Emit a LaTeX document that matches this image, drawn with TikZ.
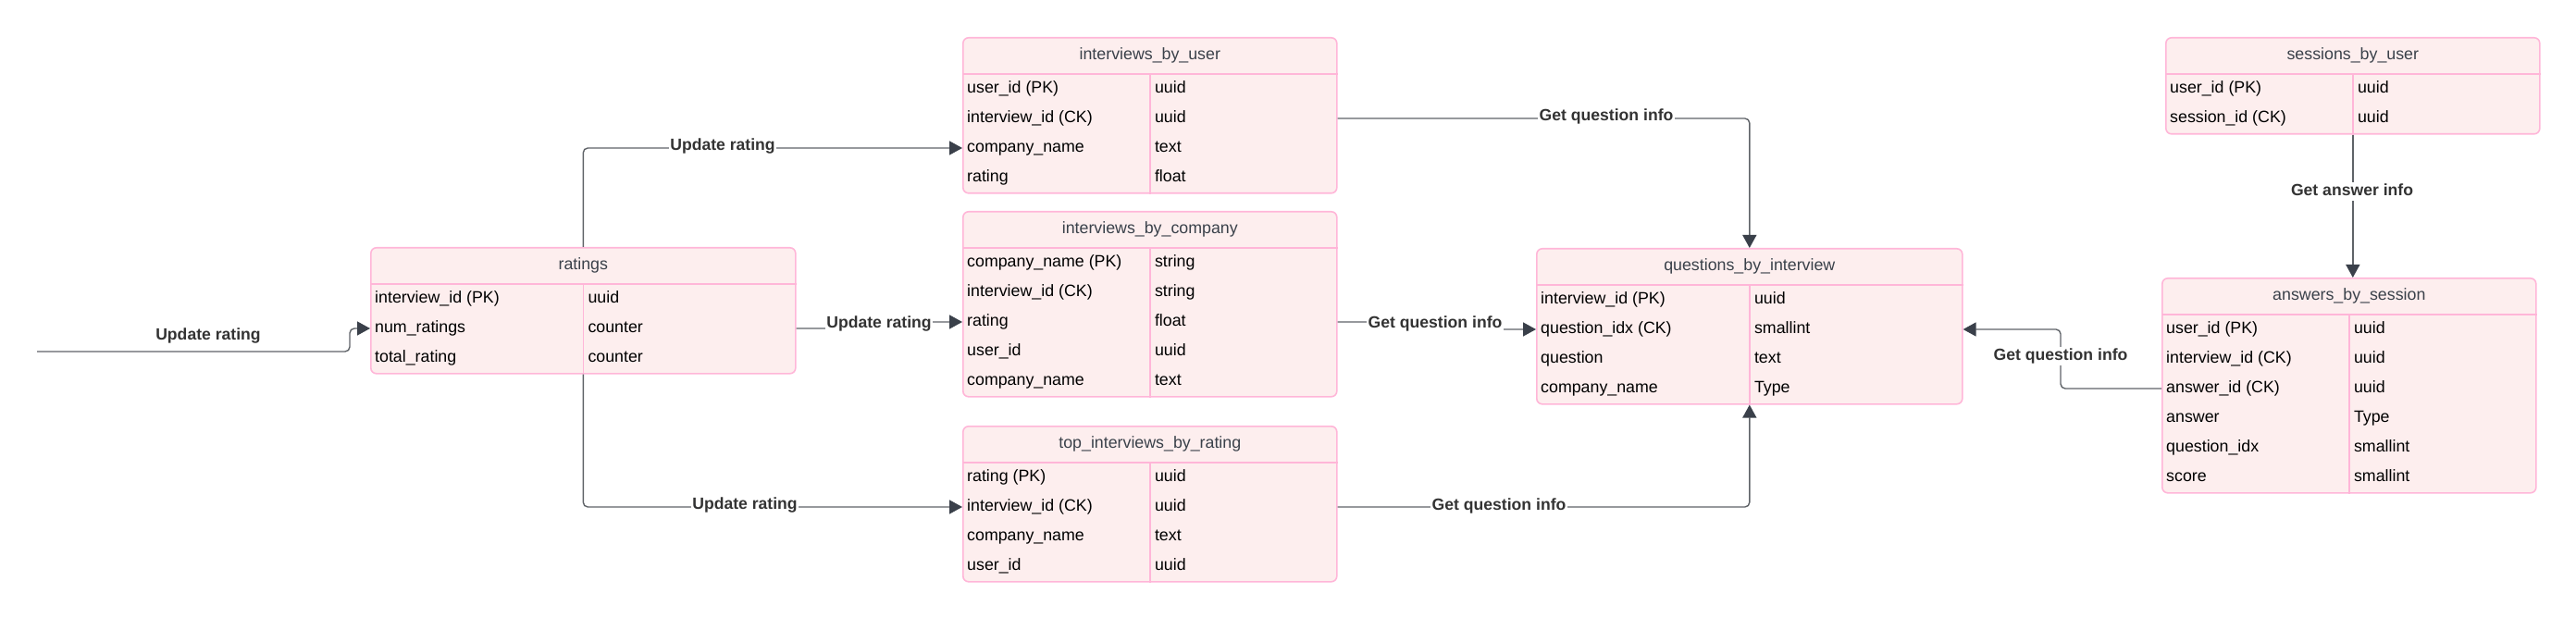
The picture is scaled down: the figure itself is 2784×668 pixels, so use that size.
\documentclass[tikz,border=0pt]{standalone}
\usepackage{fontspec}
\setmainfont{Liberation Sans}
\usetikzlibrary{arrows.meta,calc}
\definecolor{pinkc}{RGB}{255,182,216}
\definecolor{fillc}{RGB}{253,238,238}
\definecolor{titlec}{RGB}{58,65,74}
\definecolor{lblc}{RGB}{51,51,51}
\definecolor{linec}{RGB}{95,99,104}
\definecolor{arrowc}{RGB}{58,64,74}
\tikzset{
  tbox/.style={draw=pinkc, fill=fillc, line width=1.6pt, rounded corners=6pt, inner sep=0pt},
  pinkline/.style={draw=pinkc, line width=1.6pt},
  ttl/.style={text=titlec, inner sep=0pt, font=\fontsize{17.8}{21}\selectfont, text height=12.5pt, text depth=4pt},
  rowtxt/.style={text=black, anchor=west, inner sep=0pt, font=\fontsize{17.8}{21}\selectfont, text height=12.5pt, text depth=4pt},
  conn/.style={draw=linec, line width=1.4pt, rounded corners=5pt, -{Triangle[length=14pt,width=15pt,color=arrowc]}},
  lbl/.style={fill=white, inner sep=1.5pt, text=lblc, font=\bfseries\fontsize{17.6}{21}\selectfont, text height=12.5pt, text depth=4pt}
}
\newcommand\ertable[7]{%
  \pgfmathsetmacro\erh{40+32*#5}%
  \node[tbox, minimum width=#4pt, minimum height=\erh pt, anchor=north west] (#1) at (#2,#3) {};
  \draw[pinkline] ([yshift=-40pt]#1.north west) -- ([yshift=-40pt]#1.north east);
  \draw[pinkline] ([yshift=-40pt]#1.north) -- (#1.south);
  \node[ttl] (#1-title) at ([yshift=-20pt]#1.north) {#6};
  \foreach \ka/\ty [count=\i] in {#7} {
    \node[rowtxt] (#1-k\i) at ([xshift=5pt,yshift={(-24-32*\i)*1pt}]#1.north west) {\ka};
    \node[rowtxt] (#1-t\i) at ([xshift=5pt,yshift={(-24-32*\i)*1pt}]#1.north) {\ty};
  }%
}
\begin{document}
\begin{tikzpicture}[x=1pt,y=-1pt]
\useasboundingbox (0,0) rectangle (2784,668);

\ertable{ratings}{400}{267}{459}{3}{ratings}{interview\_id (PK)/uuid, num\_ratings/counter, total\_rating/counter}
\ertable{ubu}{1040}{40}{404}{4}{interviews\_by\_user}{user\_id (PK)/uuid, interview\_id (CK)/uuid, company\_name/text, rating/float}
\ertable{ibc}{1040}{228}{404}{5}{interviews\_by\_company}{company\_name (PK)/string, interview\_id (CK)/string, rating/float, user\_id/uuid, company\_name/text}
\ertable{tibr}{1040}{460}{404}{4}{top\_interviews\_by\_rating}{rating (PK)/uuid, interview\_id (CK)/uuid, company\_name/text, user\_id/uuid}
\ertable{qbi}{1660}{268}{460}{4}{questions\_by\_interview}{interview\_id (PK)/uuid, question\_idx (CK)/smallint, question/text, company\_name/Type}
\ertable{sbu}{2340}{40}{404}{2}{sessions\_by\_user}{user\_id (PK)/uuid, session\_id (CK)/uuid}
\ertable{abs}{2336}{300}{404}{6}{answers\_by\_session}{user\_id (PK)/uuid, interview\_id (CK)/uuid, answer\_id (CK)/uuid, answer/Type, question\_idx/smallint, score/smallint}

\coordinate (src) at (40,380);
\draw[conn] (src) -- (378,380) -- (378,355) -- (ratings.west |- ratings-k2.west);
\draw[conn] (ratings.north) |- (ubu.west |- ubu-k3.west);
\draw[conn] (ratings.east |- ratings-k2.west) -- (950,355) -- (950,348) -- (ibc.west |- ibc-k3.west);
\draw[conn] (ratings.south) |- (tibr.west |- tibr-k2.west);
\draw[conn] (ubu.east |- ubu-k2.west) -| (qbi.north);
\draw[conn] (ibc.east |- ibc-k3.west) -- (1551,348) -- (1551,356) -- (qbi.west |- qbi-k2.west);
\draw[conn] (tibr.east |- tibr-k2.west) -| (qbi.south);
\draw[conn] (abs.west |- abs-k3.west) -- (2227,420) -- (2227,356) -- (qbi.east |- qbi-k2.west);
\draw[conn] (sbu.south) -- (sbu.south |- abs.north);

\node[lbl] (l1) at (225,363) {Update rating};
\node[lbl] (l2) at (781,158) {Update rating};
\node[lbl] (l3) at (950,350) {Update rating};
\node[lbl] (l4) at (805,546) {Update rating};
\node[lbl] (l5) at (1736,126) {Get question info};
\node[lbl] (l6) at (1551,350) {Get question info};
\node[lbl] (l7) at (1620,547) {Get question info};
\node[lbl] (l8) at (2227,385) {Get question info};
\node[lbl] (l9) at (2542,207) {Get answer info};
\end{tikzpicture}
\end{document}
